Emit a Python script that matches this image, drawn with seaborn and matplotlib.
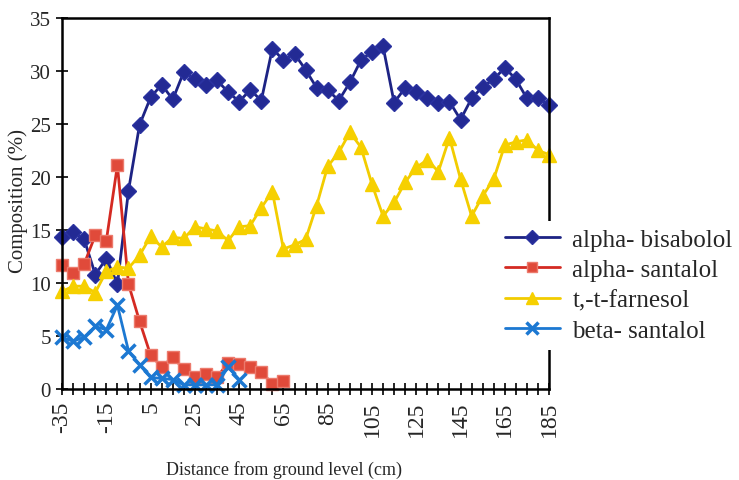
import pandas as pd
import numpy as np
import seaborn as sns
import matplotlib.pyplot as plt

# =========================================================
# DATA
# =========================================================
distance = list(range(-35, 190, 5))

bisabolol = [14.3, 14.8, 14.1, 10.8, 12.3, 9.9, 18.7, 24.9, 27.5, 28.7,
             27.3, 29.9, 29.2, 28.7, 29.1, 28.0, 27.1, 28.2, 27.2, 32.1,
             31.0, 31.6, 30.1, 28.4, 28.2, 27.2, 28.9, 31.0, 31.8, 32.3,
             27.0, 28.4, 28.0, 27.4, 27.0, 27.1, 25.4, 27.4, 28.5, 29.2,
             30.3, 29.2, 27.4, 27.4, 26.8]

farnesol = [9.2, 9.7, 9.7, 9.1, 11.1, 11.5, 11.4, 12.6, 14.4, 13.4,
            14.3, 14.2, 15.3, 15.1, 14.9, 14.0, 15.3, 15.4, 17.1, 18.6,
            13.2, 13.6, 14.1, 17.3, 21.0, 22.3, 24.2, 22.8, 19.3, 16.3,
            17.6, 19.5, 20.9, 21.6, 20.5, 23.7, 19.8, 16.3, 18.2, 19.8,
            23.0, 23.3, 23.5, 22.5, 22.1]

# alpha-santalol only measured up to 65 cm
a_santalol = [11.7, 10.9, 11.8, 14.5, 14.0, 21.1, 9.9, 6.4, 3.2, 2.1,
              3.0, 1.9, 1.1, 1.4, 1.1, 2.5, 2.4, 2.1, 1.6, 0.5, 0.8]

# beta-santalol only measured up to 45 cm
b_santalol = [4.9, 4.5, 4.9, 5.9, 5.6, 7.9, 3.6, 2.3, 1.1, 1.0,
              0.9, 0.4, 0.4, 0.4, 0.4, 2.1, 0.9]

names = ["alpha- bisabolol", "alpha- santalol", "t,-t-farnesol", "beta- santalol"]
series = [bisabolol, a_santalol, farnesol, b_santalol]

# =========================================================
# STYLE
# =========================================================
sns.set_style("ticks")
plt.rcParams["font.family"] = ["Liberation Serif", "DejaVu Serif"]

styles = {
    "alpha- bisabolol": dict(color="#1d2384", marker="D", markersize=8.5,
                             markerfacecolor="#232a94", markeredgecolor="#2a32a0", markeredgewidth=1),
    "alpha- santalol": dict(color="#d42a22", marker="s", markersize=8.5,
                            markerfacecolor="#e04a3a", markeredgecolor="#ec7a6c", markeredgewidth=1),
    "t,-t-farnesol": dict(color="#f2cc00", marker="^", markersize=10.5,
                          markerfacecolor="#f6d000", markeredgecolor="#f6d000", markeredgewidth=1),
    "beta- santalol": dict(color="#1c78d2", marker="x", markersize=10,
                           markeredgecolor="#1c78d2", markeredgewidth=2.5),
}

fig = plt.figure(figsize=(7.39, 4.81), dpi=100)
ax = fig.add_axes([0.084, 0.189, 0.659, 0.772])

for name, vals in zip(names, series):
    df = pd.DataFrame({"distance": distance[:len(vals)], "composition": vals})
    sns.lineplot(ax=ax, data=df, x="distance", y="composition",
                 linewidth=2, label=name, clip_on=False, **styles[name])

ax.set_xlim(-35, 185)
ax.set_ylim(0, 35)
ax.set_yticks(range(0, 40, 5))
ax.set_xticks(distance)
ax.set_xticklabels([str(d) if (d + 35) % 20 == 0 else "" for d in distance],
                   rotation=90, fontsize=17)
ax.tick_params(axis="y", labelsize=15)
ax.tick_params(direction="inout", length=9, width=1.2, color="black")

for sp in ax.spines.values():
    sp.set_linewidth(1.8)
    sp.set_color("black")

ax.set_xlabel("Distance from ground level (cm)", fontsize=13)
ax.set_ylabel("Composition (%)", fontsize=15)
ax.xaxis.set_label_coords(0.456, -0.19)
ax.yaxis.set_label_coords(-0.07, 0.51)

ax.get_legend().remove()
handles, labels = ax.get_legend_handles_labels()
fig.legend(handles, labels, loc="center left", bbox_to_anchor=(0.673, 0.405),
           fontsize=18, frameon=True, facecolor="white", edgecolor="none",
           framealpha=1, handlelength=2.2, handletextpad=0.5, markerscale=0.8,
           labelspacing=0.32, borderpad=0.3, borderaxespad=0)

fig.savefig("out.png", dpi=100)
